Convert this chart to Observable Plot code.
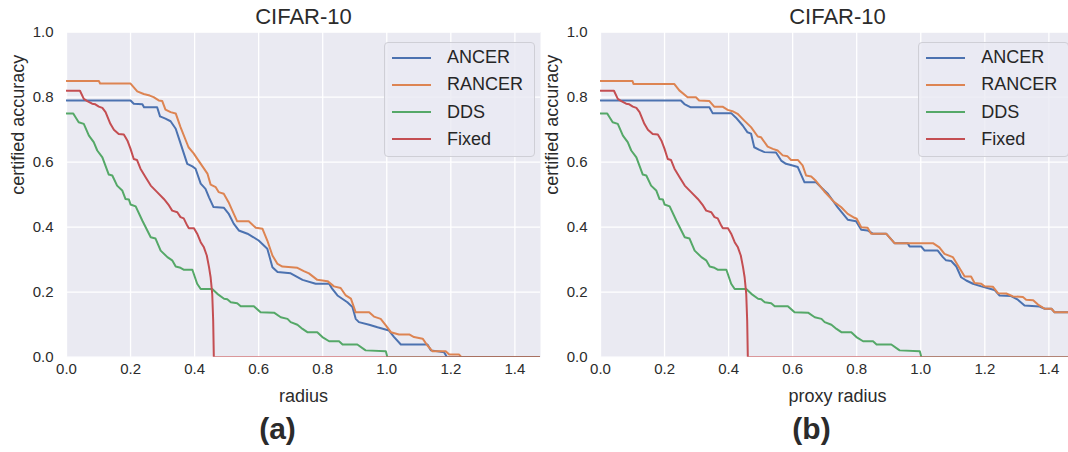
<!DOCTYPE html>
<html>
<head>
<meta charset="utf-8">
<script src="https://cdn.jsdelivr.net/npm/d3@7"></script>
<script src="https://cdn.jsdelivr.net/npm/@observablehq/plot@0.6"></script>
<style>
  html, body { margin: 0; padding: 0; background: #fff; overflow: hidden; }
  #fig { position: relative; width: 1068px; height: 452px; overflow: hidden;
         font-family: "Liberation Sans", Arial, sans-serif; }
  .panel { position: absolute; top: 0; width: 545px; height: 452px; }
  .panel svg { display: block; }
  .legend { position: absolute; left: 384px; top: 41.7px; width: 151px; height: 115px;
            box-sizing: border-box; border: 1px solid #cfcfd6; border-radius: 4px;
            background: rgba(234, 234, 242, 0.8); padding: 1.4px 0 0 7px; }
  .legend .row { display: flex; align-items: center; height: 27.2px; font-size: 18px; color: #262626; }
  .legend .sw { width: 39px; height: 2px; margin-right: 16px; }
</style>
</head>
<body>
<div id="fig"></div>
<script>
// Certified accuracy curves on CIFAR-10: [radius, certified accuracy]
const methods = ["ANCER", "RANCER", "DDS", "Fixed"];
const colors = ["#4C72B0", "#DD8452", "#55A868", "#C44E52"];
const xTicks = [0, 0.2, 0.4, 0.6, 0.8, 1.0, 1.2, 1.4];
const yTicks = [0, 0.2, 0.4, 0.6, 0.8, 1.0];

// shared by both panels
const dds = [[0,.75],[.021,.75],[.038,.723],[.054,.718],[.07,.682],[.085,.662],[.096,.636],[.112,.615],[.132,.562],[.143,.559],[.158,.528],[.174,.513],[.184,.487],[.195,.485],[.20,.47],[.216,.464],[.237,.42],[.263,.369],[.278,.365],[.294,.328],[.315,.308],[.33,.298],[.341,.279],[.356,.275],[.367,.269],[.393,.269],[.408,.226],[.419,.21],[.455,.21],[.471,.195],[.492,.18],[.502,.178],[.513,.169],[.533,.166],[.544,.157],[.585,.157],[.606,.138],[.648,.137],[.669,.123],[.69,.118],[.70,.108],[.721,.10],[.737,.087],[.752,.077],[.783,.077],[.799,.062],[.82,.049],[.851,.049],[.862,.039],[.908,.039],[.934,.021],[.997,.018],[1.002,0],[1.5,0]];
const fixed = [[0,.82],[.042,.82],[.054,.795],[.065,.788],[.08,.78],[.09,.778],[.101,.771],[.112,.767],[.122,.754],[.137,.718],[.148,.70],[.163,.687],[.179,.685],[.19,.667],[.20,.641],[.21,.61],[.22,.607],[.231,.58],[.247,.554],[.263,.528],[.283,.508],[.304,.487],[.32,.467],[.33,.451],[.346,.446],[.356,.431],[.366,.427],[.377,.405],[.382,.397],[.398,.397],[.408,.38],[.419,.354],[.429,.338],[.438,.313],[.445,.277],[.45,.246],[.455,.195],[.458,.113],[.46,0],[1.5,0]];

// (a) radius
const ancerA = [[0,.79],[.20,.79],[.21,.78],[.237,.778],[.242,.769],[.283,.769],[.292,.741],[.309,.734],[.325,.726],[.341,.703],[.353,.667],[.377,.595],[.393,.587],[.403,.58],[.419,.534],[.434,.518],[.445,.492],[.459,.462],[.491,.46],[.506,.442],[.522,.411],[.538,.39],[.565,.38],[.584,.369],[.60,.359],[.627,.334],[.643,.277],[.659,.262],[.70,.258],[.737,.238],[.778,.226],[.82,.226],[.83,.21],[.846,.19],[.877,.169],[.893,.154],[.903,.118],[.913,.108],[.945,.10],[.971,.092],[1.007,.082],[1.023,.062],[1.044,.039],[1.127,.039],[1.138,.021],[1.179,.015],[1.188,0],[1.5,0]];
const rancerA = [[0,.85],[.101,.85],[.105,.842],[.20,.842],[.221,.818],[.241,.81],[.26,.805],[.272,.80],[.288,.79],[.299,.788],[.309,.762],[.325,.754],[.341,.75],[.356,.708],[.381,.646],[.397,.627],[.408,.611],[.44,.565],[.45,.531],[.466,.523],[.475,.508],[.491,.503],[.506,.477],[.522,.442],[.533,.418],[.569,.418],[.591,.398],[.612,.395],[.627,.359],[.643,.313],[.659,.287],[.674,.279],[.721,.275],[.741,.265],[.757,.258],[.783,.238],[.815,.234],[.835,.218],[.856,.213],[.872,.19],[.888,.18],[.903,.138],[.945,.138],[.96,.125],[.981,.118],[.997,.098],[1.013,.077],[1.038,.07],[1.07,.07],[1.085,.062],[1.112,.057],[1.127,.036],[1.143,.018],[1.184,.018],[1.195,.008],[1.226,.008],[1.233,0],[1.5,0]];

// (b) proxy radius
const ancerB = [[0,.79],[.251,.79],[.262,.779],[.282,.769],[.34,.769],[.35,.751],[.408,.751],[.423,.737],[.444,.713],[.459,.692],[.47,.688],[.48,.646],[.496,.638],[.512,.631],[.548,.63],[.564,.605],[.579,.595],[.60,.59],[.616,.585],[.637,.538],[.673,.538],[.699,.513],[.71,.503],[.74,.462],[.772,.423],[.798,.418],[.814,.392],[.834,.39],[.85,.38],[.892,.38],[.918,.351],[.959,.351],[.965,.341],[1.001,.341],[1.012,.328],[1.053,.328],[1.069,.308],[1.079,.298],[1.095,.296],[1.111,.279],[1.126,.246],[1.142,.236],[1.163,.226],[1.189,.218],[1.23,.207],[1.246,.19],[1.282,.188],[1.303,.177],[1.324,.159],[1.371,.156],[1.387,.149],[1.408,.149],[1.418,.138],[1.48,.138]];
const rancerB = [[0,.85],[.10,.85],[.103,.841],[.23,.841],[.246,.821],[.272,.80],[.298,.80],[.308,.79],[.34,.788],[.355,.771],[.381,.771],[.397,.761],[.412,.757],[.428,.749],[.449,.728],[.47,.708],[.491,.679],[.501,.677],[.522,.648],[.538,.641],[.553,.636],[.569,.621],[.584,.618],[.595,.607],[.616,.607],[.631,.59],[.642,.559],[.658,.556],[.673,.542],[.699,.51],[.73,.477],[.751,.462],[.772,.441],[.793,.429],[.80,.426],[.814,.40],[.834,.398],[.845,.38],[.892,.38],[.918,.351],[1.038,.351],[1.058,.338],[1.074,.318],[1.10,.308],[1.116,.282],[1.137,.248],[1.157,.248],[1.168,.228],[1.189,.226],[1.199,.218],[1.225,.217],[1.241,.197],[1.267,.196],[1.288,.187],[1.319,.185],[1.329,.177],[1.351,.175],[1.366,.162],[1.387,.149],[1.408,.149],[1.418,.138],[1.48,.138]];

const FONT = '"Liberation Sans", Arial, sans-serif';
const fig = document.getElementById("fig");

function panel(left, ancer, rancer, xLabel, caption) {
  const series = [ancer, rancer, dds, fixed];
  const rows = series.flatMap((s, i) => s.map(([r, a]) => ({method: methods[i], r, a})));
  const chart = Plot.plot({
    width: 545, height: 452,
    marginLeft: 66, marginRight: 5, marginTop: 31.7, marginBottom: 95.3,
    style: {fontFamily: FONT, fontSize: "15px", color: "#2b2b2b", background: "transparent", overflow: "visible"},
    x: {domain: [0, 1.48]},
    y: {domain: [0, 1]},
    color: {domain: methods, range: colors},
    marks: [
      Plot.frame({fill: "#EAEAF2", stroke: "none"}),
      Plot.gridX({ticks: xTicks, stroke: "#ffffff", strokeOpacity: 1, strokeWidth: 1.3}),
      Plot.gridY({ticks: yTicks, stroke: "#ffffff", strokeOpacity: 1, strokeWidth: 1.3}),
      Plot.axisX({ticks: xTicks, tickFormat: ".1f", tickSize: 0, tickPadding: 6, label: null}),
      Plot.axisY({ticks: yTicks, tickFormat: ".1f", tickSize: 0, tickPadding: 13, label: null}),
      Plot.line(rows, {x: "r", y: "a", z: "method", stroke: "method", strokeWidth: 2, clip: true}),
      Plot.text([xLabel], {text: d => d, frameAnchor: "bottom", lineAnchor: "bottom", dy: 45, fontSize: 18}),
      Plot.text(["certified accuracy"], {text: d => d, frameAnchor: "left", rotate: -90, dx: -48, fontSize: 18}),
      Plot.text(["CIFAR-10"], {text: d => d, frameAnchor: "top", lineAnchor: "bottom", dy: -8, fontSize: 22}),
      Plot.text([caption], {text: d => d, frameAnchor: "bottom", lineAnchor: "bottom", dy: 82, dx: -26, fontSize: 30, fontWeight: "bold"})
    ]
  });
  const div = document.createElement("div");
  div.className = "panel";
  div.style.left = left + "px";
  div.appendChild(chart);
  const legend = document.createElement("div");
  legend.className = "legend";
  methods.forEach((m, i) => {
    const row = document.createElement("div");
    row.className = "row";
    const sw = document.createElement("span");
    sw.className = "sw";
    sw.style.background = colors[i];
    const label = document.createElement("span");
    label.textContent = m;
    row.append(sw, label);
    legend.appendChild(row);
  });
  div.appendChild(legend);
  fig.appendChild(div);
}

panel(0, ancerA, rancerA, "radius", "(a)");
panel(534.3, ancerB, rancerB, "proxy radius", "(b)");
</script>
</body>
</html>
